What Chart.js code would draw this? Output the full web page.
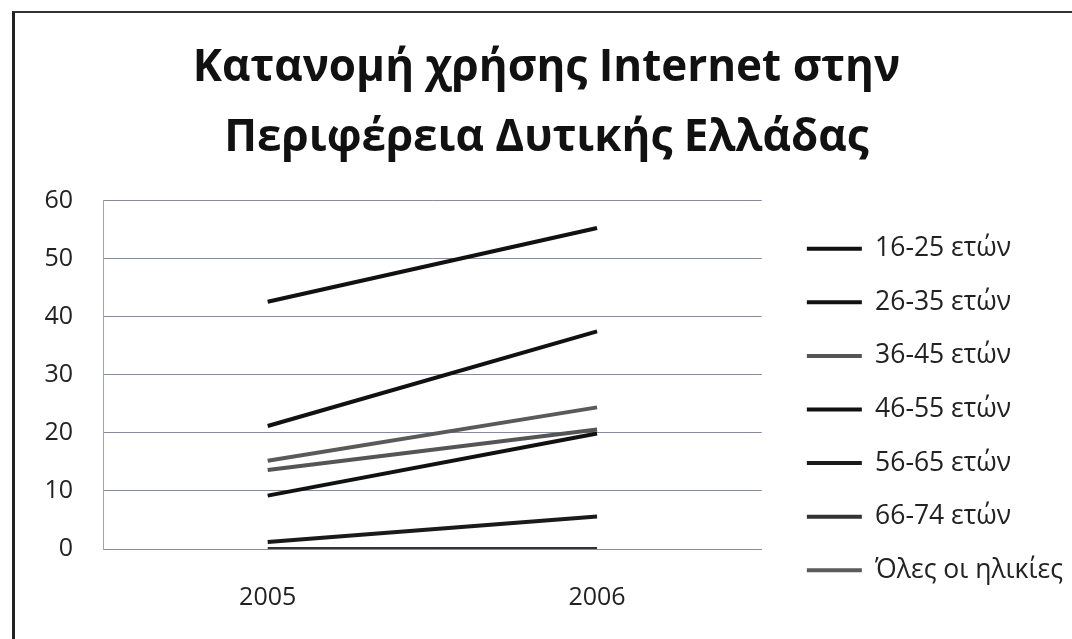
<!DOCTYPE html>
<html lang="el">
<head>
<meta charset="utf-8">
<title>Κατανομή χρήσης Internet</title>
<script src="https://cdn.jsdelivr.net/npm/chart.js@4.4.1/dist/chart.umd.min.js"></script>
<style>
  html, body { margin: 0; padding: 0; background: #fff; }
  #wrap { position: relative; width: 1072px; height: 639px; overflow: hidden; }
  #frame {
    position: absolute; left: 12px; top: 11px; width: 1100px; height: 700px;
    border-left: 3px solid #222; border-top: 2px solid #333; pointer-events: none;
  }
</style>
</head>
<body>
<div id="wrap">
  <canvas id="usageChart"></canvas>
  <div id="frame"></div>
</div>
<script>
// Δεδομένα (%)
const years = ['2005', '2006'];
const ageGroups = ['16-25 ετών', '26-35 ετών', '36-45 ετών', '46-55 ετών', '56-65 ετών', '66-74 ετών', 'Όλες οι ηλικίες'];
const age16_25 = [42.6, 55.3];
const age26_35 = [21.2, 37.5];
const age36_45 = [13.6, 20.6];
const age46_55 = [9.2, 19.9];
const age56_65 = [1.2, 5.6];
const age66_74 = [0, 0];
const allAges = [15.2, 24.4];
const yTicks = [0, 10, 20, 30, 40, 50, 60];

const seriesValues = [age16_25, age26_35, age36_45, age46_55, age56_65, age66_74, allAges];
const lineColors = ['#111', '#111', '#555', '#111', '#1a1a1a', '#333', '#5a5a5a'];

const fontFamily = '"Open Sans", "Noto Sans", sans-serif';

// μικρές μετατοπίσεις τίτλου / υπομνήματος μετά το layout
const titleNudge = { x: 32 };
const legendNudge = { x: 18, y: 91, extra: 60 };
const boxShift = {
  id: 'boxShift',
  afterLayout(chart) {
    const lg = chart.legend;
    if (lg) {
      lg.left += legendNudge.x;
      lg.right += legendNudge.x + legendNudge.extra;
      lg.width += legendNudge.extra;
      lg.top += legendNudge.y; lg.bottom += legendNudge.y;
    }
    const tb = chart.titleBlock;
    if (tb) {
      tb.left += titleNudge.x; tb.right += titleNudge.x;
    }
  }
};

const ctx = document.getElementById('usageChart').getContext('2d');
new Chart(ctx, {
  type: 'line',
  data: {
    labels: years,
    datasets: ageGroups.map((name, i) => ({
      label: name,
      data: seriesValues[i],
      borderColor: lineColors[i],
      backgroundColor: lineColors[i],
      borderWidth: 4,
      pointRadius: 0,
      pointHoverRadius: 0,
      tension: 0
    }))
  },
  options: {
    responsive: true,
    maintainAspectRatio: false,
    animation: false,
    layout: { padding: { top: 22, left: 20, right: 63, bottom: 24 } },
    plugins: {
      tooltip: { enabled: false },
      title: {
        display: true,
        text: ['Κατανομή χρήσης Internet στην', 'Περιφέρεια Δυτικής Ελλάδας'],
        color: '#111',
        font: { family: fontFamily, size: 44, weight: 'bold', lineHeight: 1.6 },
        padding: { top: 11, bottom: 27 }
      },
      legend: {
        position: 'right',
        labels: {
          color: '#222',
          font: { family: fontFamily, size: 26.5 },
          boxWidth: 55,
          boxHeight: 4,
          padding: 27.1,
          generateLabels(chart) {
            const items = Chart.defaults.plugins.legend.labels.generateLabels(chart);
            items.forEach(it => { it.lineWidth = 0; });
            return items;
          }
        }
      }
    },
    scales: {
      x: {
        offset: true,
        afterFit(scale) { scale.height = 66; },
        grid: { display: false, drawTicks: false },
        border: { display: true, color: '#8a8ea3', width: 1 },
        ticks: { color: '#222', font: { family: fontFamily, size: 25 }, padding: 34 }
      },
      y: {
        min: 0,
        max: 60,
        afterFit(scale) { scale.width = 83; },
        afterBuildTicks(scale) { scale.ticks = yTicks.map(v => ({ value: v })); },
        grid: { color: '#878ba0', lineWidth: 1, drawTicks: false },
        border: { display: true, color: '#a0a3b4', width: 1 },
        ticks: { color: '#222', font: { family: fontFamily, size: 25 }, padding: 30 }
      }
    }
  },
  plugins: [boxShift]
});
</script>
</body>
</html>
